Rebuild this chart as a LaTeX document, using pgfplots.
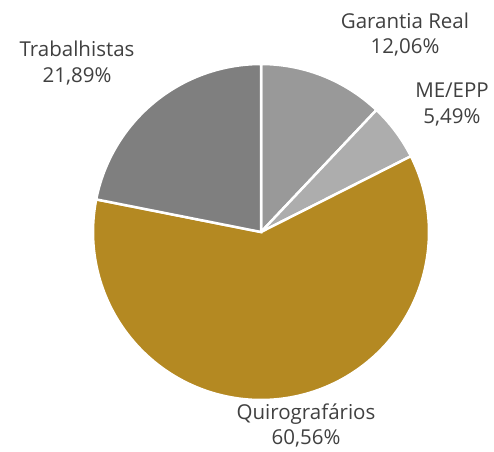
\documentclass[border=0pt]{standalone}
\usepackage{pgfplots}
\pgfplotsset{compat=1.18}
\usepackage{fontspec}
\setmainfont{Open Sans}
\definecolor{gA}{HTML}{999999}
\definecolor{gB}{HTML}{ADADAD}
\definecolor{gold}{HTML}{B48922}
\definecolor{gD}{HTML}{7F7F7F}
\definecolor{txt}{HTML}{404040}
\def\vA{12.06}\def\vB{5.49}\def\vC{60.56}\def\vD{21.89}
\pgfmathsetmacro{\aO}{90}
\pgfmathsetmacro{\aA}{\aO-\vA*3.6}
\pgfmathsetmacro{\aB}{\aA-\vB*3.6}
\pgfmathsetmacro{\aC}{\aB-\vC*3.6}
\pgfmathsetmacro{\aD}{\aC-\vD*3.6}
\begin{document}
\begin{tikzpicture}
\begin{axis}[hide axis, scale only axis, x=168pt, y=168pt,
  xmin=-1.5536, xmax=1.3869, ymin=-1.3036, ymax=1.381, clip=false]
\addplot[fill=gA, draw=white, line width=2.5pt, domain=\aA:\aO, samples=60, variable=\t] ({cos(\t)},{sin(\t)}) -- (axis cs:0,0) -- cycle;
\addplot[fill=gB, draw=white, line width=2.5pt, domain=\aB:\aA, samples=40, variable=\t] ({cos(\t)},{sin(\t)}) -- (axis cs:0,0) -- cycle;
\addplot[fill=gold, draw=white, line width=2.5pt, domain=\aC:\aB, samples=150, variable=\t] ({cos(\t)},{sin(\t)}) -- (axis cs:0,0) -- cycle;
\addplot[fill=gD, draw=white, line width=2.5pt, domain=\aD:\aC, samples=80, variable=\t] ({cos(\t)},{sin(\t)}) -- (axis cs:0,0) -- cycle;
\begin{scope}[every node/.style={align=center, text=txt, font=\fontsize{20.5}{25.5}\selectfont, inner sep=0pt}]
\node at (axis cs:0.857,1.176) {Garantia Real\\12,06\%};
\node at (axis cs:1.137,0.759) {ME/EPP\\5,49\%};
\node at (axis cs:-1.095,1.006) {Trabalhistas\\21,89\%};
\node at (axis cs:0.268,-1.152) {Quirografários\\60,56\%};
\end{scope}
\path (axis cs:-1.5536,-1.3036) rectangle (axis cs:1.3869,1.381);
\end{axis}
\end{tikzpicture}
\end{document}
